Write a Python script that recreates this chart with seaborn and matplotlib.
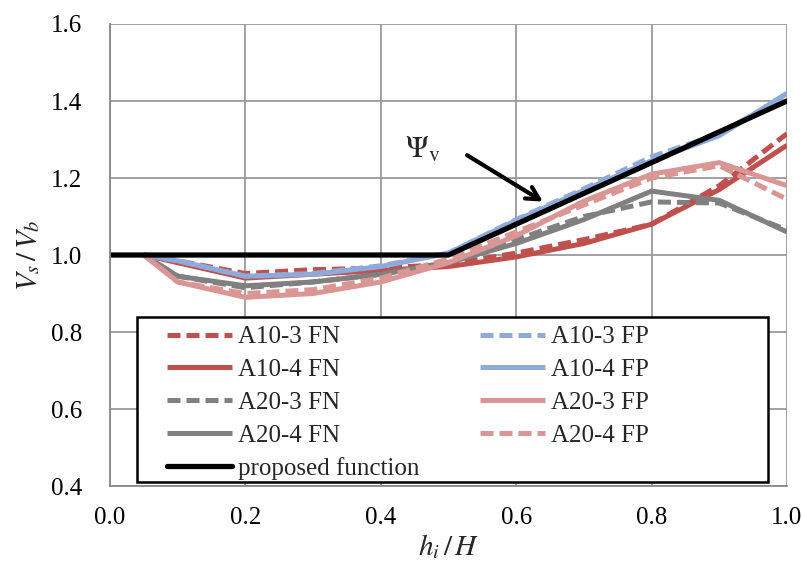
import matplotlib
matplotlib.use("Agg")
import matplotlib.pyplot as plt
from matplotlib.patches import Rectangle
import seaborn as sns
import pandas as pd

# ---- data ----
h_ratio = [0.05, 0.1, 0.2, 0.3, 0.4, 0.5, 0.6, 0.7, 0.8, 0.9, 1.0]

a10_3_fn = [1.00, 0.985, 0.952, 0.962, 0.966, 0.976, 1.005, 1.040, 1.080, 1.180, 1.315]
a10_4_fn = [1.00, 0.980, 0.940, 0.950, 0.960, 0.970, 0.995, 1.030, 1.080, 1.170, 1.285]
a20_3_fn = [1.00, 0.945, 0.915, 0.930, 0.950, 0.980, 1.040, 1.100, 1.138, 1.135, 1.065]
a20_4_fn = [1.00, 0.945, 0.920, 0.930, 0.950, 0.980, 1.030, 1.092, 1.166, 1.142, 1.060]
a10_3_fp = [1.00, 0.985, 0.945, 0.952, 0.972, 1.005, 1.092, 1.172, 1.255, 1.315, 1.415]
a10_4_fp = [1.00, 0.985, 0.945, 0.950, 0.970, 1.005, 1.090, 1.168, 1.245, 1.310, 1.420]
a20_3_fp = [1.00, 0.930, 0.890, 0.900, 0.930, 0.980, 1.050, 1.140, 1.210, 1.240, 1.180]
a20_4_fp = [1.00, 0.930, 0.900, 0.910, 0.940, 0.990, 1.060, 1.130, 1.200, 1.232, 1.145]

proposed_x = [0.0, 0.5, 1.0]
proposed_y = [1.0, 1.0, 1.4]

series_names = ["A10-3 FN", "A10-4 FN", "A20-3 FN", "A20-4 FN",
                "A10-3 FP", "A10-4 FP", "A20-3 FP", "A20-4 FP"]
series_values = [a10_3_fn, a10_4_fn, a20_3_fn, a20_4_fn,
                 a10_3_fp, a10_4_fp, a20_3_fp, a20_4_fp]

x_ticks = [0.0, 0.2, 0.4, 0.6, 0.8, 1.0]
y_ticks = [0.4, 0.6, 0.8, 1.0, 1.2, 1.4, 1.6]

# ---- styles ----
RED = "#C0504D"
BLUE = "#8EAADB"
PINK = "#DA9694"
GRAY = "#808080"
styles = {
    "A10-3 FN": (RED, "dash"),
    "A10-4 FN": (RED, "solid"),
    "A20-3 FN": (GRAY, "dash"),
    "A20-4 FN": (GRAY, "solid"),
    "A10-3 FP": (BLUE, "dash"),
    "A10-4 FP": (BLUE, "solid"),
    "A20-3 FP": (PINK, "solid"),
    "A20-4 FP": (PINK, "dash"),
}

sns.set_theme(style="white")
plt.rcParams["font.family"] = ["Liberation Serif", "DejaVu Serif"]
plt.rcParams["mathtext.fontset"] = "stix"

fig = plt.figure(figsize=(8.03, 5.66), dpi=100)
ax = fig.add_axes([0.137, 0.1413, 0.843, 0.8163])

LW = 3.6
handles = {}
for name, vals in zip(series_names, series_values):
    color, ls = styles[name]
    df = pd.DataFrame({"x": h_ratio, "y": vals})
    sns.lineplot(data=df, x="x", y="y", ax=ax, color=color, lw=LW,
                 label=name, sort=False, solid_capstyle="butt")
    line = ax.lines[-1]
    if ls == "dash":
        line.set_dashes((2.6, 1.2))
        line.set_dash_capstyle("butt")
    handles[name] = line

dfp = pd.DataFrame({"x": proposed_x, "y": proposed_y})
sns.lineplot(data=dfp, x="x", y="y", ax=ax, color="black", lw=3.8,
             label="proposed function", sort=False)
handles["proposed function"] = ax.lines[-1]

ax.set_xlim(0.0, 1.0)
ax.set_ylim(0.4, 1.6)
ax.set_xticks(x_ticks)
ax.set_yticks(y_ticks)
ax.set_xticklabels([f"{v:.1f}" for v in x_ticks])
ax.set_yticklabels([f"{v:.1f}" for v in y_ticks])
ax.tick_params(axis="both", labelsize=18, labelcolor="black", length=5,
               width=1.0, color="#888888", direction="out")
ax.tick_params(axis="x", pad=10)
ax.tick_params(axis="y", pad=15)

ax.grid(True, color="#9a9a9a", lw=1.3)
ax.set_axisbelow(True)
for side in ["top", "right"]:
    ax.spines[side].set_visible(False)
for side in ["left", "bottom"]:
    ax.spines[side].set_color("#888888")
    ax.spines[side].set_linewidth(1.3)

ax.set_xlabel(r"$h_i\,/\,H$", fontsize=21)
ax.set_ylabel(r"$V_s\,/\,V_b$", fontsize=21)
ax.xaxis.set_label_coords(0.5, -0.100)
ax.yaxis.set_label_coords(-0.100, 0.5)

# annotation
ax.text(0.462, 1.272, r"$\Psi_{\mathrm{v}}$", fontsize=22, ha="center", va="center")
ax.annotate("", xy=(0.643, 1.135), xytext=(0.524, 1.263),
            arrowprops=dict(arrowstyle="->,head_length=0.75,head_width=0.4",
                            color="black", lw=3.0))

# legend frame (fixed box) + legend entries
box_x0, box_x1 = 0.040, 0.972
box_y0, box_y1 = 0.4105, 0.839
ax.add_patch(Rectangle((box_x0, box_y0), box_x1 - box_x0, box_y1 - box_y0,
                       transform=ax.transData, facecolor="white",
                       edgecolor="black", lw=1.8, zorder=4))

left = ["A10-3 FN", "A10-4 FN", "A20-3 FN", "A20-4 FN", "proposed function"]
right = ["A10-3 FP", "A10-4 FP", "A20-3 FP", "A20-4 FP"]
leg_names = left + right
leg = ax.legend([handles[n] for n in leg_names], leg_names,
                ncol=2, loc="upper left", bbox_to_anchor=(0.0842, 0.816),
                bbox_transform=ax.transData,
                fontsize=18, frameon=False,
                handlelength=2.6, handletextpad=0.22, columnspacing=2.45,
                labelspacing=0.41, borderpad=0.0, borderaxespad=0.0)
leg.set_zorder(5)

fig.savefig("out.png", dpi=100)
